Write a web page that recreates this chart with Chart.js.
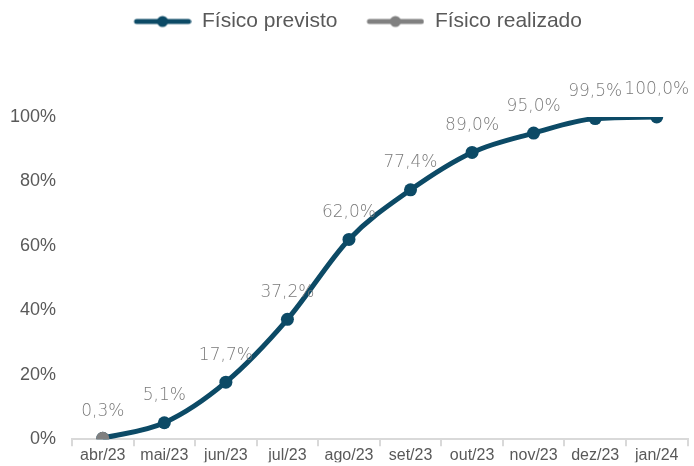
<!DOCTYPE html>
<html><head><meta charset="utf-8">
<script src="https://cdn.jsdelivr.net/npm/chart.js@4/dist/chart.umd.min.js"></script>
<style>html,body{margin:0;padding:0;background:#fff}#wrap{width:694px;height:466px}</style>
</head><body><div id="wrap"><canvas id="c"></canvas></div>
<script>
const categories = ['abr/23','mai/23','jun/23','jul/23','ago/23','set/23','out/23','nov/23','dez/23','jan/24'];
const previsto = [0.3, 5.1, 17.7, 37.2, 62.0, 77.4, 89.0, 95.0, 99.5, 100.0];
const realizado = [0.3, null, null, null, null, null, null, null, null, null];
const seriesNames = ['Físico previsto', 'Físico realizado'];
const yTicks = [0, 20, 40, 60, 80, 100];

const C_PREV = '#0c4a66';
const C_REAL = '#808080';

function legendIcon(color, margin){
  const c = document.createElement('canvas');
  c.width = 58 + margin; c.height = 14;
  const x = c.getContext('2d');
  x.strokeStyle = color; x.lineWidth = 5; x.lineCap = 'round';
  x.beginPath(); x.moveTo(margin + 3, 7); x.lineTo(margin + 55, 7); x.stroke();
  x.fillStyle = color; x.beginPath(); x.arc(margin + 29, 7, 5.5, 0, Math.PI * 2); x.fill();
  return c;
}
const ICON_MARGIN = 18;
const icons = [legendIcon(C_PREV, ICON_MARGIN), legendIcon(C_REAL, ICON_MARGIN)];

const labelPlugin = {
  id: 'valueLabels',
  afterInit(chart){
    const lg = chart.legend;
    if (lg) {
      const orig = lg.fit.bind(lg);
      lg.fit = function(){ orig(); this.height = 117; };
    }
  },
  afterDatasetsDraw(chart){
    const ctx = chart.ctx;
    const meta = chart.getDatasetMeta(0);
    ctx.save();
    ctx.font = '200 17px "DejaVu Sans"';
    ctx.fillStyle = '#7a7a7a';
    ctx.textAlign = 'center';
    ctx.textBaseline = 'middle';
    meta.data.forEach((pt, i) => {
      const v = previsto[i];
      ctx.fillText(v.toFixed(1).replace('.', ',') + '%', pt.x, pt.y - 27);
    });
    ctx.restore();
  }
};

new Chart(document.getElementById('c'), {
  type: 'line',
  data: {
    labels: categories,
    datasets: [
      { label: seriesNames[0], data: previsto, borderColor: C_PREV, backgroundColor: C_PREV, order: 2,
        borderWidth: 5, pointRadius: 6.5, pointBackgroundColor: C_PREV, pointBorderWidth: 0,
        cubicInterpolationMode: 'monotone', pointStyle: 'circle' },
      { label: seriesNames[1], data: realizado, borderColor: C_REAL, backgroundColor: C_REAL, order: 1,
        borderWidth: 5, pointRadius: 6.5, pointBackgroundColor: C_REAL, pointBorderWidth: 0 }
    ]
  },
  options: {
    responsive: true, maintainAspectRatio: false, animation: false,
    layout: { padding: { top: 0, right: -3.5, left: 0, bottom: -4 } },
    plugins: {
      tooltip: { enabled: false },
      legend: {
        position: 'top',
        labels: {
          usePointStyle: true, pointStyleWidth: 58 + ICON_MARGIN, boxHeight: 14,
          color: '#595959', font: { family: 'Liberation Sans, Arial', size: 21 },
          padding: 11,
          generateLabels(chart){
            return chart.data.datasets.map((d, i) => ({
              text: d.label, pointStyle: icons[i], fillStyle: 'transparent', strokeStyle: 'transparent',
              lineWidth: 0, datasetIndex: i, hidden: false, fontColor: '#595959'
            }));
          }
        }
      }
    },
    scales: {
      x: {
        offset: true,
        afterFit(axis){ axis.height = 23; },
        grid: { display: true, drawOnChartArea: false, drawTicks: true, tickLength: 7, color: '#d9d9d9', offset: true, lineWidth: 2 },
        border: { display: true, color: '#d9d9d9', width: 2 },
        ticks: { color: '#595959', font: { family: 'Liberation Sans, Arial', size: 16 }, padding: 0, maxRotation: 0, autoSkip: false }
      },
      y: {
        min: 0, max: 100,
        afterFit(axis){ axis.width = 72; },
        afterBuildTicks(axis){ axis.ticks = yTicks.map(v => ({ value: v })); },
        grid: { display: false, drawTicks: false },
        border: { display: false },
        ticks: { color: '#595959', font: { family: 'Liberation Sans, Arial', size: 18 }, padding: 16,
          callback: v => v + '%' }
      }
    }
  },
  plugins: [labelPlugin]
});
</script></body></html>
